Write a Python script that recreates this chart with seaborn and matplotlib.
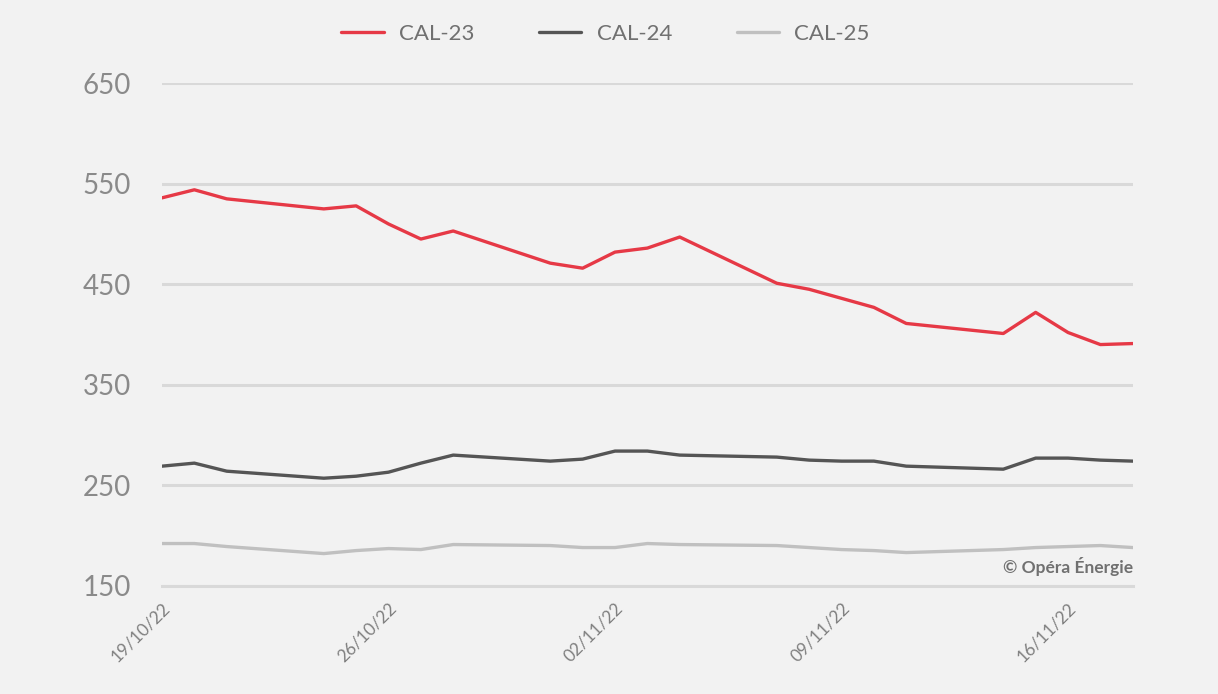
import pandas as pd
import numpy as np
import matplotlib.pyplot as plt
import matplotlib.dates as mdates
import seaborn as sns

dates = ["2022-10-19", "2022-10-20", "2022-10-21", "2022-10-24", "2022-10-25",
         "2022-10-26", "2022-10-27", "2022-10-28", "2022-10-31", "2022-11-01",
         "2022-11-02", "2022-11-03", "2022-11-04", "2022-11-07", "2022-11-08",
         "2022-11-09", "2022-11-10", "2022-11-11", "2022-11-14", "2022-11-15",
         "2022-11-16", "2022-11-17", "2022-11-18"]
cal23 = [536, 544, 535, 525, 528, 510, 495, 503, 471, 466, 482, 486, 497,
         451, 445, 436, 427, 411, 401, 422, 402, 390, 391]
cal24 = [269, 272, 264, 257, 259, 263, 272, 280, 274, 276, 284, 284, 280,
         278, 275, 274, 274, 269, 266, 277, 277, 275, 274]
cal25 = [192, 192, 189, 182, 185, 187, 186, 191, 190, 188, 188, 192, 191,
         190, 188, 186, 185, 183, 186, 188, 189, 190, 188]
series_names = ["CAL-23", "CAL-24", "CAL-25"]
tick_dates = ["2022-10-19", "2022-10-26", "2022-11-02", "2022-11-09", "2022-11-16"]
yticks = [150, 250, 350, 450, 550, 650]

df = pd.DataFrame({"date": pd.to_datetime(dates), "CAL-23": cal23,
                   "CAL-24": cal24, "CAL-25": cal25})
long = df.melt(id_vars="date", var_name="serie", value_name="prix")

bg = "#f2f2f2"
sns.set_theme(style="white")
plt.rcParams["font.family"] = ["Lato", "DejaVu Sans"]

fig, ax = plt.subplots(figsize=(12.18, 6.94), dpi=100)
fig.patch.set_facecolor(bg)
ax.set_facecolor(bg)
fig.subplots_adjust(left=0.133, right=0.93, top=0.88, bottom=0.156)

palette = {"CAL-23": "#e63946", "CAL-24": "#555555", "CAL-25": "#c0c0c0"}
sns.lineplot(data=long, x="date", y="prix", hue="serie", hue_order=series_names,
             palette=palette, linewidth=2.4, ax=ax)

ax.set_ylim(150, 650)
ax.set_xlim(pd.Timestamp(dates[0]), pd.Timestamp(dates[-1]))
ax.set_yticks(yticks)
ax.set_xticks(pd.to_datetime(tick_dates))
ax.xaxis.set_major_formatter(mdates.DateFormatter("%d/%m/%y"))
ax.yaxis.grid(True, color="#d9d9d9", linewidth=2.2, zorder=0)
ax.set_axisbelow(True)
for s in ["top", "right", "left"]:
    ax.spines[s].set_visible(False)
ax.spines["bottom"].set_color("#d9d9d9")
ax.spines["bottom"].set_linewidth(2.2)
ax.tick_params(axis="x", length=8, width=2, color="#d9d9d9", colors="#808080",
               labelsize=12.5, pad=2)
ax.tick_params(axis="y", length=0, colors="#8a8a8a", labelsize=20)
for lbl in ax.get_xticklabels():
    lbl.set_rotation(45)
    lbl.set_ha("right")
    lbl.set_rotation_mode("anchor")
for lbl in ax.get_yticklabels():
    lbl.set_ha("left")
ax.yaxis.set_tick_params(pad=57)
ax.set_xlabel("")
ax.set_ylabel("")

handles, labels = ax.get_legend_handles_labels()
ax.legend(handles, labels, loc="center", bbox_to_anchor=(0.457, 1.099),
          ncol=3, frameon=False, fontsize=16, labelcolor="#707070",
          handlelength=1.9, columnspacing=2.9, handletextpad=0.7)

ax.text(1.0, 0.02, "© Opéra Énergie", transform=ax.transAxes, ha="right",
        va="bottom", fontsize=12.5, fontweight="bold", color="#707070")

plt.savefig("out.png", dpi=100, facecolor=bg)
